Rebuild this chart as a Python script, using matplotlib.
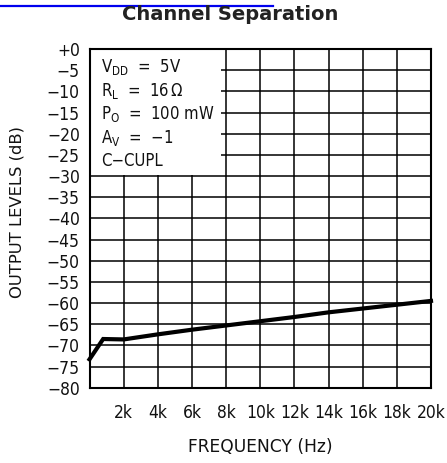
import matplotlib
matplotlib.use("Agg")
import matplotlib.pyplot as plt
from matplotlib.patches import Rectangle
from matplotlib.lines import Line2D

# Channel separation vs. frequency
freq_hz = [0, 800, 2000, 4000, 6000, 8000, 10000, 12000, 14000, 16000, 18000, 20000]
level_db = [-73.3, -68.5, -68.6, -67.4, -66.3, -65.3, -64.3, -63.3, -62.2, -61.3, -60.4, -59.5]

x_ticks = [0, 2000, 4000, 6000, 8000, 10000, 12000, 14000, 16000, 18000, 20000]
x_tick_labels = ["", "2k", "4k", "6k", "8k", "10k", "12k", "14k", "16k", "18k", "20k"]
y_ticks = list(range(0, -85, -5))
y_tick_labels = ["+0"] + ["\u2212%d" % (-v) for v in y_ticks[1:]]

conditions = [
    r"V$_{\mathregular{DD}}$  =  5V",
    r"R$_{\mathregular{L}}$  =  16$\,\Omega$",
    r"P$_{\mathregular{O}}$  =  100 mW",
    "A$_{\\mathregular{V}}$  =  \u22121",
    "C\u2212CUPL",
]

plt.rcParams["font.family"] = "DejaVu Sans"
plt.rcParams["font.stretch"] = "condensed"
plt.rcParams["mathtext.fontset"] = "custom"
plt.rcParams["mathtext.rm"] = "DejaVu Sans:stretch=condensed"

W, H = 447, 463
fig = plt.figure(figsize=(W / 100, H / 100), dpi=100)
left, right, top, bottom = 89.5, 431, 49, 387.7
ax = fig.add_axes([left / W, 1 - bottom / H, (right - left) / W, (bottom - top) / H])

ax.set_xlim(0, 20000)
ax.set_ylim(-80, 0)

# grid
ax.vlines(x_ticks[1:-1], -80, 0, colors="black", linewidth=1.1, zorder=1)
ax.hlines(y_ticks[1:-1], 0, 20000, colors="black", linewidth=1.1, zorder=1)

# white panel for the test conditions
ax.add_patch(Rectangle((0, 0.628), 0.384, 0.372, transform=ax.transAxes,
                       facecolor="white", edgecolor="none", zorder=2))

ax.plot(freq_hz, level_db, color="black", linewidth=3.0, zorder=3,
        solid_joinstyle="miter", clip_on=False)

for s in ax.spines.values():
    s.set_linewidth(1.5)
    s.set_zorder(4)

ax.set_xticks(x_ticks)
ax.set_xticklabels(x_tick_labels)
ax.set_yticks(y_ticks)
ax.set_yticklabels(y_tick_labels)
ax.tick_params(axis="both", length=0, labelsize=12.5, colors="#111111")
ax.tick_params(axis="x", pad=12)
ax.tick_params(axis="y", pad=7)

baselines = [0.932, 0.862, 0.792, 0.7225, 0.6546]
for txt, yb in zip(conditions, baselines):
    ax.text(0.0346, yb, txt, transform=ax.transAxes,
            fontsize=12, va="baseline", ha="left", color="#111111", zorder=5)

fig.text(260 / W, 1 - 446.7 / H, "FREQUENCY (Hz)", ha="center", va="center",
         fontsize=12.3, fontstretch="normal", color="#111111")
fig.text(17 / W, 1 - 211.5 / H, "OUTPUT LEVELS (dB)", ha="center", va="center",
         rotation=90, fontsize=11.8, fontstretch="normal", color="#111111")

fig.text(230 / W, 1 - 20 / H, "Channel Separation", ha="center", va="baseline",
         fontsize=14, fontweight="bold", fontstretch="normal", color="#222222")
fig.add_artist(Line2D([0, 273 / W], [1 - 5.7 / H, 1 - 5.7 / H], color="#0000ee",
                      linewidth=1.6, transform=fig.transFigure))

fig.savefig("out.png", dpi=100)
